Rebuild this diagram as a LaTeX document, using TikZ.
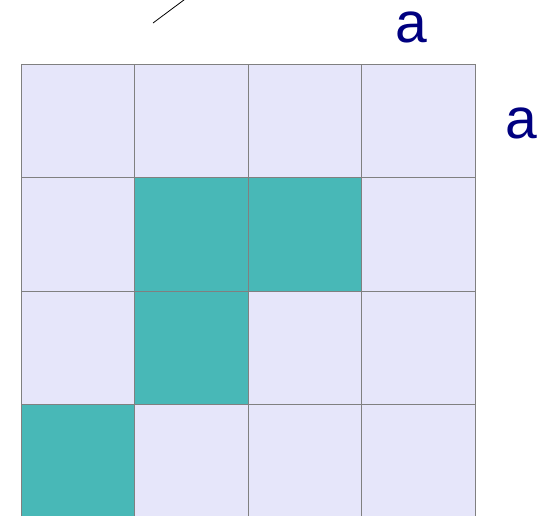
\documentclass[tikz,border=0pt]{standalone}
\usepackage{fontspec}
\setmainfont{Liberation Sans}
\usepackage{tikz}
\usetikzlibrary{positioning}
\definecolor{cell_lav}{RGB}{230,230,250}
\definecolor{cell_teal}{RGB}{72,184,183}
\definecolor{lbl_navy}{RGB}{0,0,128}

\begin{document}
\begin{tikzpicture}[x=1pt, y=-1pt,
    cell/.style={draw=gray, line width=1pt, fill=cell_lav, minimum size=113.5pt, inner sep=0pt, outer sep=0pt},
    hit/.style={cell, fill=cell_teal},
    lbl/.style={font=\fontsize{57}{57}\selectfont, text=lbl_navy, anchor=base, inner sep=0pt}]
        \useasboundingbox (0,0) rectangle (547,515);
        \clip (0,0) rectangle (547,515);
        % 4x4 grid, row by row
        \foreach \r in {1,...,4} {
          \foreach \c in {1,...,4} {
            \node[cell] (c-\r-\c) at ({21+113.5*(\c-0.5)},{64+113.5*(\r-0.5)}) {};
          }
        }
        % marked cells
        \node[hit] at (c-2-2) {};
        \node[hit] at (c-2-3) {};
        \node[hit] at (c-3-2) {};
        \node[hit] at (c-4-1) {};
        % labels
        \node[lbl] (top-a) at (411,42) {a};
        \node[lbl] (side-a) at (521,138) {a};
        % pointer
        \coordinate (tip) at (153,23);
        \coordinate (tail) at (200,-12);
        \draw[black, line width=0.8pt] (tip) -- (tail);
\end{tikzpicture}
\end{document}
